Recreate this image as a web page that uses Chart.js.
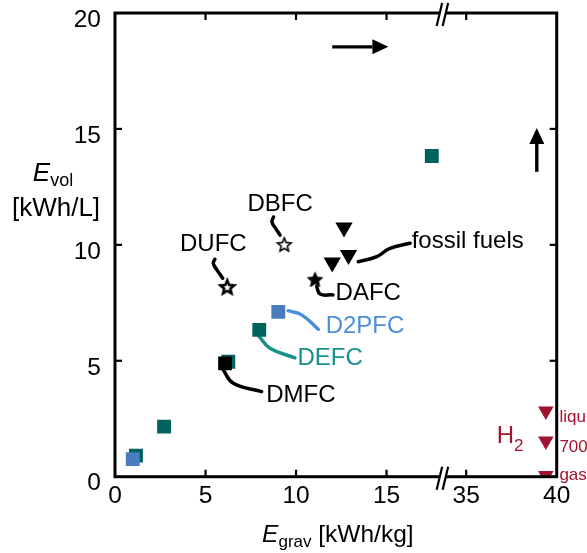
<!DOCTYPE html>
<html>
<head>
<meta charset="utf-8">
<script src="https://cdn.jsdelivr.net/npm/chart.js@4.4.1/dist/chart.umd.min.js"></script>
<style>
  html, body { margin: 0; padding: 0; background: #fff; }
  canvas { display: block; }
</style>
</head>
<body>
<canvas id="chart" width="587" height="553"></canvas>
<script>
// x axis is broken: nothing shown between 18.1 and 33.7 kWh/kg
const X_BREAK = [18.1, 33.7];
const X_TICKS = [0, 5, 10, 15, 35, 40];
const Y_TICKS = [0, 5, 10, 15, 20];

// direct fuel cells, values in kWh/kg and kWh/L
const tealX = [17.5, 7.97, 6.26, 2.71, 1.16];
const tealY = [13.83, 6.33, 4.96, 2.16, 0.91];
const blueX = [9.02, 0.98];
const blueY = [7.11, 0.76];
const dmfcX = [6.08];
const dmfcY = [4.89];
const starNames = ['DBFC', 'DUFC', 'DAFC'];
const starX = [9.35, 6.20, 11.05];
const starY = [10.03, 8.20, 8.52];
const fossilX = [12.65, 12.0, 12.9];
const fossilY = [10.75, 9.24, 9.56];
const h2Names = ['liquid', '700 bar', 'gas'];
const h2X = [39.4, 39.4, 39.4];
const h2Y = [2.83, 1.54, 0.05];

// annotations, in data units
const leaders = [
    { color: '#000', pts: [[8.76, 11.20], [8.67, 10.99], [8.90, 10.68], [9.12, 10.42]] },
    { color: '#000', pts: [[5.52, 9.38], [5.43, 9.20], [5.64, 8.91], [5.95, 8.56]] },
    { color: '#000', pts: [[11.14, 8.20], [11.33, 7.88], [12.04, 7.84]] },
    { color: '#000', pts: [[13.44, 9.27], [14.46, 9.49], [15.19, 9.85], [16.30, 10.07]] },
    { color: '#4a8fd8', pts: [[9.57, 7.16], [10.31, 6.98], [11.23, 6.36]] },
    { color: '#18918a', pts: [[7.97, 6.04], [8.56, 5.54], [9.94, 5.13]] },
    { color: '#000', pts: [[5.98, 4.60], [6.54, 4.03], [8.10, 3.67]] }
];
const notes = [
    { text: 'DBFC', x: 9.12, y: 11.74, color: '#000', align: 'center' },
    { text: 'DUFC', x: 5.43, y: 10.0, color: '#000', align: 'center' },
    { text: 'DAFC', x: 13.99, y: 7.91, color: '#000', align: 'center' },
    { text: 'fossil fuels', x: 16.39, y: 10.15, color: '#000', align: 'left' },
    { text: 'D2PFC', x: 13.81, y: 6.47, color: '#4a8fd8', align: 'center' },
    { text: 'DEFC', x: 11.88, y: 5.11, color: '#18918a', align: 'center' },
    { text: 'DMFC', x: 10.27, y: 3.52, color: '#000', align: 'center' }
];
const h2LabelY = [2.36, 1.07, -0.14];
const arrows = [
    [[12.0, 18.54], [15.1, 18.54]],
    [[38.9, 13.15], [38.9, 15.04]]
];

const FONT = "'Liberation Sans', Arial, sans-serif";
const RED = '#a3122f';

function tx(v) {
    return v > X_BREAK[0] ? v - (X_BREAK[1] - X_BREAK[0]) : v;
}

function pts(xs, ys) {
    return xs.map((v, i) => ({ x: tx(v), y: ys[i] }));
}

function starCanvas(R, fill, lw) {
    const size = Math.ceil(R * 2 + lw + 2);
    const c = document.createElement('canvas');
    c.width = c.height = size;
    const g = c.getContext('2d');
    const r = R * 0.45;
    g.beginPath();
    for (let i = 0; i < 10; i++) {
        const ang = -Math.PI / 2 + i * Math.PI / 5;
        const d = i % 2 ? r : R;
        g.lineTo(size / 2 + d * Math.cos(ang), size / 2 + 1 + d * Math.sin(ang));
    }
    g.closePath();
    g.fillStyle = fill;
    g.fill();
    g.lineWidth = lw;
    g.strokeStyle = '#000';
    g.stroke();
    return c;
}

const stars = [starCanvas(7.2, '#fff', 1.6), starCanvas(7.2, '#fff', 2.6), starCanvas(8, '#000', 1)];

const datasets = [
    {
        data: pts(h2X, h2Y), pointStyle: 'triangle', rotation: 180, pointRadius: 9,
        backgroundColor: RED, borderWidth: 0, clip: 0, order: 1
    },
    {
        data: pts(fossilX, fossilY), pointStyle: 'triangle', rotation: 180, pointRadius: 10,
        backgroundColor: '#000', borderWidth: 0, order: 1
    },
    {
        data: pts(starX, starY), pointStyle: stars, pointRadius: 8, order: 1
    },
    {
        data: pts(dmfcX, dmfcY), pointStyle: 'rect', pointRadius: 9.8,
        backgroundColor: '#000', borderWidth: 0, order: 2
    },
    {
        data: pts(blueX, blueY), pointStyle: 'rect', pointRadius: 9.8,
        backgroundColor: '#4a7dbf', borderWidth: 0, order: 3
    },
    {
        data: pts(tealX, tealY), pointStyle: 'rect', pointRadius: 9.8,
        backgroundColor: '#00625c', borderWidth: 0, order: 4
    }
];

leaders.forEach(l => {
    datasets.push({
        data: l.pts.map(p => ({ x: tx(p[0]), y: p[1] })),
        showLine: true, tension: 0.45, pointRadius: 0,
        borderColor: l.color, borderWidth: 3.5, borderCapStyle: 'round', order: 5
    });
});

function line(ctx, x1, y1, x2, y2) {
    ctx.beginPath();
    ctx.moveTo(x1, y1);
    ctx.lineTo(x2, y2);
    ctx.stroke();
}

function richText(ctx, parts, x, y, align) {
    let w = 0;
    parts.forEach(p => { ctx.font = p.font; w += ctx.measureText(p.t).width; });
    let cx = align === 'center' ? x - w / 2 : x;
    ctx.textAlign = 'left';
    ctx.textBaseline = 'alphabetic';
    parts.forEach(p => {
        ctx.font = p.font;
        ctx.fillText(p.t, cx, y + (p.dy || 0));
        cx += ctx.measureText(p.t).width;
    });
}

const overlay = {
    id: 'overlay',
    afterDatasetsDraw(chart) {
        const { ctx, chartArea: a, scales: { x, y } } = chart;
        const px = v => x.getPixelForValue(tx(v));
        const py = v => y.getPixelForValue(v);
        ctx.save();

        // frame with inward ticks
        ctx.strokeStyle = '#000';
        ctx.lineWidth = 3;
        ctx.lineCap = 'square';
        ctx.strokeRect(a.left, a.top, a.width, a.height);
        ctx.lineWidth = 2.2;
        ctx.lineCap = 'butt';
        X_TICKS.slice(1, -1).forEach(v => {
            const p = px(v);
            line(ctx, p, a.bottom, p, a.bottom - 7);
            line(ctx, p, a.top, p, a.top + 7);
        });
        Y_TICKS.slice(1, -1).forEach(v => {
            const p = py(v);
            line(ctx, a.left, p, a.left + 7, p);
            line(ctx, a.right, p, a.right - 7, p);
        });

        // break marks
        const b = x.getPixelForValue(X_BREAK[0]);
        [a.top, a.bottom].forEach(yy => {
            ctx.fillStyle = '#fff';
            ctx.fillRect(b - 2.5, yy - 2.5, 5, 5);
            ctx.lineWidth = 2.2;
            line(ctx, b - 6, yy + 13, b - 0.5, yy - 10);
            line(ctx, b, yy + 13, b + 5.5, yy - 10);
        });

        // arrows
        ctx.fillStyle = '#000';
        ctx.lineWidth = 3.4;
        arrows.forEach(([s, e]) => {
            const x1 = px(s[0]), y1 = py(s[1]), x2 = px(e[0]), y2 = py(e[1]);
            const ang = Math.atan2(y2 - y1, x2 - x1);
            const hl = 16, hw = 7.5;
            const bx = x2 - hl * Math.cos(ang), by = y2 - hl * Math.sin(ang);
            line(ctx, x1, y1, bx, by);
            ctx.beginPath();
            ctx.moveTo(x2, y2);
            ctx.lineTo(bx - hw * Math.sin(ang), by + hw * Math.cos(ang));
            ctx.lineTo(bx + hw * Math.sin(ang), by - hw * Math.cos(ang));
            ctx.closePath();
            ctx.fill();
        });

        // labels
        ctx.font = '24px ' + FONT;
        ctx.textBaseline = 'middle';
        notes.forEach(n => {
            ctx.fillStyle = n.color;
            ctx.textAlign = n.align;
            ctx.fillText(n.text, px(n.x), py(n.y));
        });

        ctx.fillStyle = RED;
        richText(ctx, [
            { t: 'H', font: '24px ' + FONT },
            { t: '2', font: '17px ' + FONT, dy: 8 }
        ], px(36.69), py(1.44), 'left');
        ctx.font = '17px ' + FONT;
        ctx.textAlign = 'left';
        ctx.textBaseline = 'alphabetic';
        h2Names.forEach((t, i) => ctx.fillText(t, px(40.15), py(h2LabelY[i])));

        // axis titles
        ctx.fillStyle = '#000';
        richText(ctx, [
            { t: 'E', font: 'italic 26px ' + FONT },
            { t: 'vol', font: '18px ' + FONT, dy: 5 }
        ], a.left - 62, 181, 'center');
        richText(ctx, [{ t: '[kWh/L]', font: '26px ' + FONT }], a.left - 59, 216, 'center');
        richText(ctx, [
            { t: 'E', font: 'italic 24.5px ' + FONT },
            { t: 'grav', font: '17px ' + FONT, dy: 5 },
            { t: ' [kWh/kg]', font: '24.5px ' + FONT }
        ], (a.left + a.right) / 2 + 2, a.bottom + 65, 'center');

        ctx.restore();
    }
};

new Chart(document.getElementById('chart'), {
    type: 'scatter',
    data: { datasets },
    plugins: [overlay],
    options: {
        responsive: false,
        devicePixelRatio: 1,
        animation: false,
        layout: { padding: { left: 0, top: 13, right: 30.3, bottom: 0 } },
        plugins: { legend: { display: false }, tooltip: { enabled: false } },
        scales: {
            x: {
                type: 'linear',
                min: 0,
                max: tx(40),
                afterBuildTicks: s => { s.ticks = X_TICKS.map(v => ({ value: tx(v) })); },
                afterFit: s => { s.height = 76.3; s.paddingLeft = 0; s.paddingRight = 0; },
                grid: { display: false, drawTicks: false },
                border: { display: false },
                ticks: {
                    padding: 5,
                    color: '#000',
                    font: { family: FONT, size: 24.5 },
                    maxRotation: 0,
                    autoSkip: false,
                    callback: (v, i) => String(X_TICKS[i])
                }
            },
            y: {
                type: 'linear',
                min: 0,
                max: 20,
                afterBuildTicks: s => { s.ticks = Y_TICKS.map(v => ({ value: v })); },
                afterFit: s => { s.width = 115; s.paddingTop = 0; s.paddingBottom = 0; },
                grid: { display: false, drawTicks: false },
                border: { display: false },
                ticks: {
                    padding: 14,
                    labelOffset: 7,
                    color: '#000',
                    font: { family: FONT, size: 24.5 },
                    callback: v => String(v)
                }
            }
        }
    }
});
</script>
</body>
</html>
